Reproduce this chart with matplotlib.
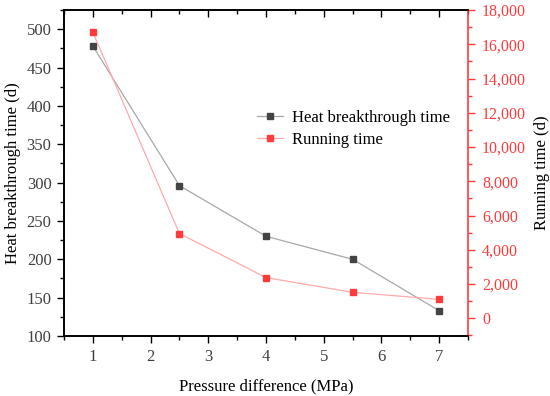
import matplotlib
matplotlib.use('Agg')
import matplotlib.pyplot as plt
from matplotlib.ticker import MultipleLocator, FuncFormatter

plt.rcParams['font.family'] = ['Liberation Serif', 'DejaVu Serif']

# data
pressure = [1, 2.5, 4, 5.5, 7]
heat_time = [478, 296, 230, 200, 133]
running_time = [16700, 4950, 2380, 1520, 1110]

RED = '#ff3b3b'
TICK_GRAY = '#404040'

fig = plt.figure(figsize=(5.5, 3.96), dpi=100)
ax = fig.add_axes([0.1164, 0.1515, 0.7346, 0.8232])
ax2 = ax.twinx()

l1, = ax.plot(pressure, heat_time, color='#a8a8a8', linewidth=0.9,
              marker='s', markersize=5, markerfacecolor='#444444',
              markeredgecolor='#444444', label='Heat breakthrough time')
l2, = ax2.plot(pressure, running_time, color='#ffaaaa', linewidth=0.9,
               marker='s', markersize=5, markerfacecolor=RED,
               markeredgecolor=RED, label='Running time')

ax.set_xlim(0.5, 7.5)
ax.set_ylim(100, 525)
ax2.set_ylim(-1030, 18000)

ax.xaxis.set_major_locator(MultipleLocator(1))
ax.xaxis.set_minor_locator(MultipleLocator(0.5))
ax.yaxis.set_major_locator(MultipleLocator(50))
ax.yaxis.set_minor_locator(MultipleLocator(25))
ax2.yaxis.set_major_locator(MultipleLocator(2000))
ax2.yaxis.set_minor_locator(MultipleLocator(1000))
ax2.yaxis.set_major_formatter(FuncFormatter(lambda v, p: f'{int(v):,}'))

# spines
for s in ['left', 'bottom', 'top']:
    ax.spines[s].set_linewidth(1.2)
    ax2.spines[s].set_linewidth(1.2)
ax2.spines['right'].set_color(RED)
ax2.spines['right'].set_linewidth(1.2)
ax.spines['right'].set_visible(False)

ax.tick_params(axis='both', which='both', direction='out', labelsize=12,
               labelcolor=TICK_GRAY, width=1.0, top=True, pad=4)
ax.tick_params(axis='both', which='major', length=5)
ax.tick_params(axis='both', which='minor', length=3)
ax.tick_params(axis='x', which='both', top=True)
# top ticks point inward
for t in ax.xaxis.get_major_ticks() + ax.xaxis.get_minor_ticks():
    t.tick2line.set_marker(3)
ax2.tick_params(axis='y', which='both', direction='out', colors=RED,
                labelsize=11.5, width=1.0, pad=5)
ax2.tick_params(axis='y', which='major', length=5)
ax2.tick_params(axis='y', which='minor', length=3)

ax.set_xlabel('Pressure difference (MPa)', fontsize=12, labelpad=10)
ax.set_ylabel('Heat breakthrough time (d)', fontsize=12, labelpad=4)
ax2.set_ylabel('Running time (d)', fontsize=12, labelpad=6)

ax.legend(handles=[l1, l2], loc='upper left', bbox_to_anchor=(0.44, 0.74),
          frameon=False, fontsize=12, handlelength=1.6, handletextpad=0.5,
          labelspacing=0.35)

fig.savefig('out.png', dpi=100)
